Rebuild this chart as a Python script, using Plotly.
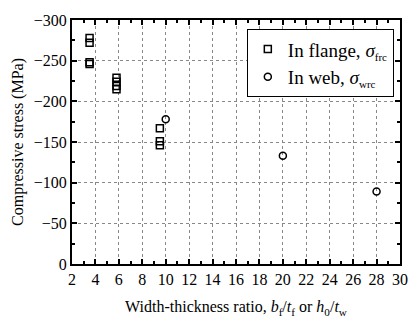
import plotly.graph_objects as go

flange_x = [3.5, 3.5, 3.5, 3.5, 5.8, 5.8, 5.8, 5.8, 9.5, 9.5, 9.5]
flange_y = [-278, -272, -248, -246, -229, -224, -219, -215, -167, -151, -146]
web_x = [10, 20, 28]
web_y = [-178, -133, -89]

FONT = "Liberation Serif"

fig = go.Figure()
fig.add_trace(go.Scatter(
    x=flange_x, y=flange_y, mode="markers",
    name="In flange, <i>σ</i><sub><span style='font-size:11px'>frc</span></sub>",
    marker=dict(symbol="square-open", size=7, color="black", line=dict(width=1.5, color="black")),
))
fig.add_trace(go.Scatter(
    x=web_x, y=web_y, mode="markers",
    name="In web, <i>σ</i><sub><span style='font-size:11px'>wrc</span></sub>",
    marker=dict(symbol="circle-open", size=7, color="black", line=dict(width=1.5, color="black")),
))

axis_common = dict(
    showline=True, linecolor="black", linewidth=2, mirror="ticks",
    ticks="inside", ticklen=5, tickwidth=2, tickcolor="black",
    showgrid=True, gridcolor="#888888", griddash="dot", gridwidth=1,
    zeroline=False,
    tickfont=dict(family=FONT, size=16, color="black"),
)

fig.update_xaxes(
    range=[2, 30], dtick=2, tick0=2,
    minor=dict(dtick=1, ticks="inside", ticklen=3, tickwidth=1.5, tickcolor="black", showgrid=False),
    title=dict(text="Width-thickness ratio, <i>b</i><sub>f</sub>/<i>t</i><sub>f</sub> or <i>h</i><sub>0</sub>/<i>t</i><sub>w</sub>",
               font=dict(family=FONT, size=16, color="black"), standoff=14),
    **axis_common,
)
fig.update_yaxes(
    range=[0, -300], dtick=50, tick0=0,
    minor=dict(dtick=25, ticks="inside", ticklen=3, tickwidth=1.5, tickcolor="black", showgrid=False),
    title=dict(text="Compressive stress (MPa)", font=dict(family=FONT, size=16, color="black"), standoff=6),
    **axis_common,
)

fig.update_layout(
    width=420, height=325,
    margin=dict(l=72, r=12, t=15, b=61),
    plot_bgcolor="white", paper_bgcolor="white",
    font=dict(family=FONT, size=16, color="black"),
    legend=dict(x=0.533, y=0.962, xanchor="left", yanchor="top",
                bordercolor="black", borderwidth=1, bgcolor="white",
                font=dict(family=FONT, size=19, color="black"),
                itemwidth=30, tracegroupgap=2),
    showlegend=True,
)

fig.write_html("out.html")
